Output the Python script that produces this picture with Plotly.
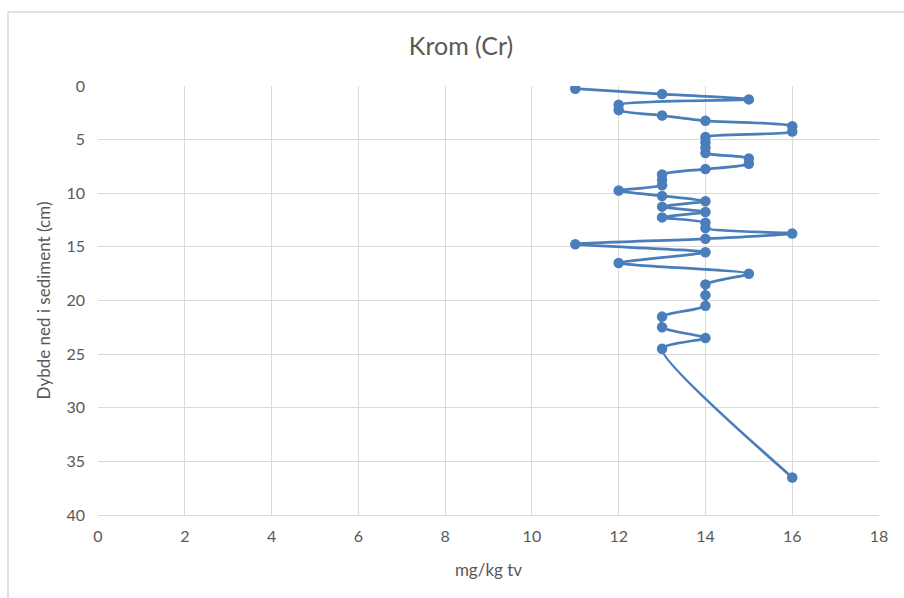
import plotly.graph_objects as go

# Data
krom_mg_kg = [11, 13, 15, 12, 12, 13, 14, 16, 16, 14, 14, 14, 14, 15, 15, 14,
              13, 13, 13, 12, 13, 14, 13, 14, 13, 14, 14, 16, 14, 11, 14, 12,
              15, 14, 14, 14, 13, 13, 14, 13, 16]
dybde_cm = [0.25, 0.75, 1.25, 1.75, 2.25, 2.75, 3.25, 3.75, 4.25, 4.75, 5.25,
            5.75, 6.25, 6.75, 7.25, 7.75, 8.25, 8.75, 9.25, 9.75, 10.25, 10.75,
            11.25, 11.75, 12.25, 12.75, 13.25, 13.75, 14.25, 14.75, 15.5, 16.5,
            17.5, 18.5, 19.5, 20.5, 21.5, 22.5, 23.5, 24.5, 36.5]

x_ticks = [0, 2, 4, 6, 8, 10, 12, 14, 16, 18]
y_ticks = [0, 5, 10, 15, 20, 25, 30, 35, 40]

FONT = "Lato, 'Open Sans', sans-serif"
GRAY = "#595959"
GRID = "#d9d9d9"

fig = go.Figure()
fig.add_trace(go.Scatter(
    x=krom_mg_kg, y=dybde_cm, mode="lines+markers",
    line=dict(color="#4a7ebb", width=2.75, shape="spline", smoothing=0.6),
    marker=dict(color="#4a7ebb", size=10.5),
    showlegend=False,
))

fig.update_layout(
    width=904, height=598,
    margin=dict(l=98, r=25, t=86, b=83),
    paper_bgcolor="white", plot_bgcolor="white",
    font=dict(family=FONT, color=GRAY, size=16),
    title=dict(text="Krom (Cr)", x=461 / 904, xanchor="center", y=1 - 46/598,
               yanchor="middle", font=dict(size=25, color=GRAY, family=FONT)),
    xaxis=dict(range=[0, 18], tickvals=x_ticks, showgrid=True, gridcolor=GRID,
               gridwidth=1, zeroline=False, showline=True, linecolor=GRID,
               mirror=False, ticks="", ticklabelstandoff=7,
               title=dict(text="mg/kg tv", font=dict(size=17, color=GRAY), standoff=19),
               tickfont=dict(size=16, color=GRAY)),
    yaxis=dict(range=[40, 0], tickvals=y_ticks, showgrid=True, gridcolor=GRID,
               gridwidth=1, zeroline=False, showline=False, ticks="",
               ticklabelstandoff=12,
               title=dict(text="Dybde ned i sediment (cm)", font=dict(size=17, color=GRAY), standoff=11),
               tickfont=dict(size=16, color=GRAY)),
    shapes=[dict(type="rect", xref="paper", yref="paper",
                 x0=(8 - 98) / 781, x1=1.2, y0=-0.4, y1=(515 - 12) / 429,
                 line=dict(color="#d9d9d9", width=1.5), fillcolor="rgba(0,0,0,0)",
                 layer="below")],
)

fig.write_html("out.html")
